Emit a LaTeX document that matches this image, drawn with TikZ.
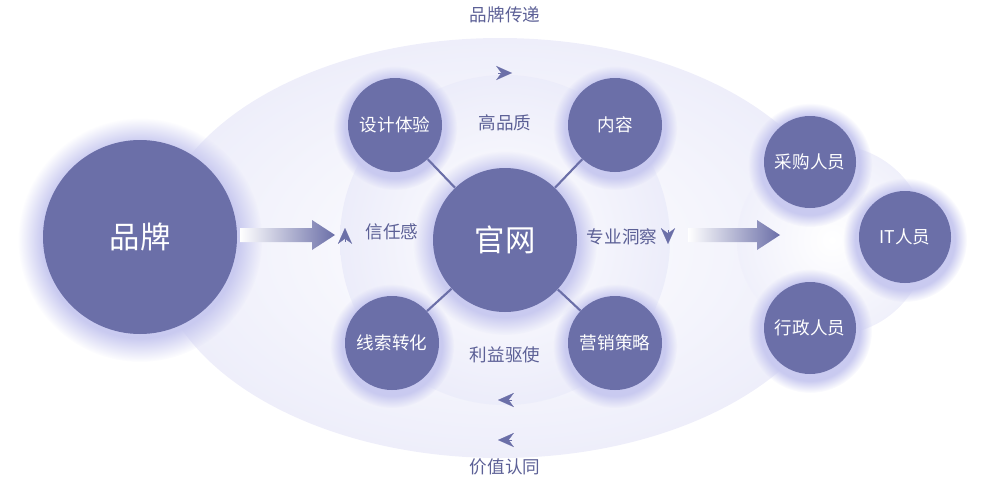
\documentclass[tikz,border=0pt]{standalone}
\usepackage{fontspec}
\setmainfont{Noto Sans CJK SC}
\usetikzlibrary{positioning,fadings,arrows.meta}
\definecolor{navy}{HTML}{6B6FA8}
\definecolor{lav}{HTML}{C9CAF0}
\definecolor{labelc}{HTML}{5C6096}
\tikzset{
  ball/.style={circle,fill=navy,text=white,inner sep=0pt},
  small/.style={ball,minimum size=94\unitlength,font=\normalsize},
  lbl/.style={text=labelc,font=\normalsize},
  tip/.style={-{Stealth[length=9pt,width=8pt]},navy,line width=0.1pt},
}
\newcommand{\glow}[3]{\fill[lav,path fading=circle with fuzzy edge 20 percent] (#1,#2) circle (#3);}
\begin{document}
\begin{tikzpicture}[x=0.02cm,y=-0.02cm]
\setlength{\unitlength}{0.02cm}
\useasboundingbox (0,0) rectangle (1000,480);
% background shapes
\shade[inner color=white,outer color=lav!32] (500,248) ellipse (345 and 210);
\shade[inner color=white,outer color=lav!35] (505,240) circle (165);
\shade[inner color=white,outer color=lav!28] (832,240) circle (95);
% glows
\glow{140}{240}{122}
\glow{505}{243}{92}
\foreach \x/\y in {395/128,615/128,392/346,615/346,810/165,905/240,810/331}
  {\glow{\x}{\y}{62}}
% nodes
\node[ball,minimum size=194\unitlength,font=\LARGE] (brand) at (140,237) {品牌};
\node[ball,minimum size=144\unitlength,font=\LARGE] (site) at (505,240) {官网};
\node[small] (design) at (395,125) {设计体验};
\node[small] (content) at (615,125) {内容};
\node[small] (lead) at (392,343) {线索转化};
\node[small] (market) at (615,343) {营销策略};
\node[small,minimum size=92\unitlength] (buy) at (810,162) {采购人员};
\node[small,minimum size=92\unitlength] (it) at (905,237) {IT人员};
\node[small,minimum size=92\unitlength] (admin) at (810,328) {行政人员};
\foreach \n in {design,content,lead,market}
  \draw[navy,line width=1.2pt] (site) -- (\n);
% labels
\node[lbl] (top) at (505,15) {品牌传递};
\node[lbl] (bottom) at (505,467) {价值认同};
\node[lbl] (quality) at (505,123) {高品质};
\node[lbl] (trust) at (392,232) {信任感};
\node[lbl] (insight) at (622,237) {专业洞察};
\node[lbl] (gain) at (505,355) {利益驱使};
% big arrows
\shade[left color=white,right color=navy] (240,228) -- (312,228) -- (312,220) -- (335,235) -- (312,250) -- (312,242) -- (240,242) -- cycle;
\shade[left color=white,right color=navy] (688,228) -- (757,228) -- (757,220) -- (780,235) -- (757,250) -- (757,242) -- (688,242) -- cycle;
% small tips
\coordinate (t1) at (498,73); \coordinate (t1e) at (512,73);
\coordinate (t2) at (345,242); \coordinate (t2e) at (345,228);
\coordinate (t3) at (668,230); \coordinate (t3e) at (668,244);
\coordinate (t4) at (512,400); \coordinate (t4e) at (498,400);
\coordinate (t5) at (512,440); \coordinate (t5e) at (498,440);
\foreach \a/\b in {t1/t1e,t2/t2e,t3/t3e,t4/t4e,t5/t5e}
  \draw[tip] (\a) -- (\b);
\end{tikzpicture}
\end{document}
